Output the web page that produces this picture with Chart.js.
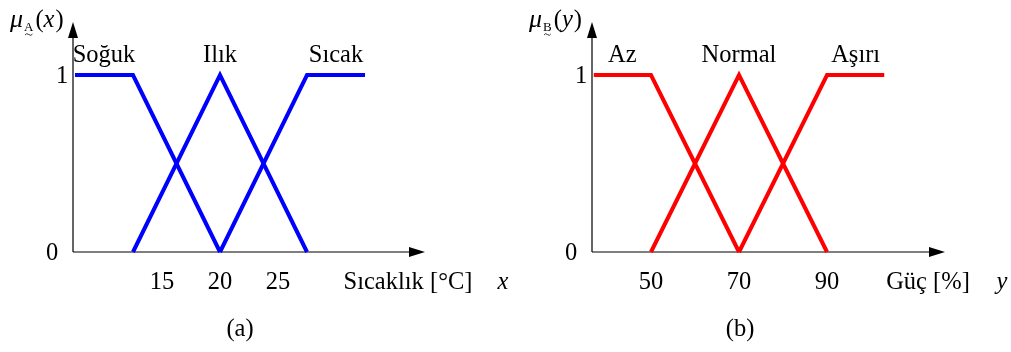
<!DOCTYPE html>
<html lang="tr">
<head>
<meta charset="UTF-8">
<title>Bulanık üyelik fonksiyonları</title>
<script src="https://cdn.jsdelivr.net/npm/chart.js"></script>
<style>
  body { margin: 0; background: #fff; }
  .panel { position: absolute; top: 0; height: 352px; }
  #panelA { left: 0; width: 525px; }
  #panelB { left: 505px; width: 506px; }
</style>
</head>
<body>
<div class="panel" id="panelA"><canvas id="chartA"></canvas></div>
<div class="panel" id="panelB"><canvas id="chartB"></canvas></div>
<script>
// (a) giriş: sıcaklık kümeleri
const tempSetNames = ['Soğuk', 'Ilık', 'Sıcak'];
const sogukX = [7.5, 12.5, 20];
const sogukMu = [1, 1, 0];
const ilikX = [12.5, 20, 27.5];
const ilikMu = [0, 1, 0];
const sicakX = [20, 27.5, 32.5];
const sicakMu = [0, 1, 1];
const tempTicks = [15, 20, 25];

// (b) çıkış: güç kümeleri
const powerSetNames = ['Az', 'Normal', 'Aşırı'];
const azX = [37, 50, 70];
const azMu = [1, 1, 0];
const normalX = [50, 70, 90];
const normalMu = [0, 1, 0];
const asiriX = [70, 90, 103];
const asiriMu = [0, 1, 1];
const powerTicks = [50, 70, 90];

const muTicks = [0, 1];

const FONT = "'Liberation Serif', 'DejaVu Serif', serif";
const SIZE = 24.5;

function toPoints(xs, ys) {
  return xs.map((x, i) => ({ x: x, y: ys[i] }));
}

function plateauCenter(xs, ys) {
  const top = xs.filter((x, i) => ys[i] === 1);
  return (Math.min(...top) + Math.max(...top)) / 2;
}

function fuzzyPlugin(cfg) {
  return {
    id: 'fuzzyAxes',
    beforeDatasetsDraw(chart) {
      const ctx = chart.ctx;
      const area = chart.chartArea;
      const ys = chart.scales.y;
      const x0 = area.left;
      const y0 = ys.getPixelForValue(0);
      ctx.save();
      ctx.strokeStyle = '#000';
      ctx.fillStyle = '#000';
      ctx.lineWidth = 1.2;
      ctx.beginPath();
      ctx.moveTo(x0, y0);
      ctx.lineTo(area.right - 12, y0);
      ctx.moveTo(x0, y0);
      ctx.lineTo(x0, area.top + 12);
      ctx.stroke();
      // ok uçları
      ctx.beginPath();
      ctx.moveTo(area.right, y0);
      ctx.lineTo(area.right - 16, y0 - 5);
      ctx.lineTo(area.right - 16, y0 + 5);
      ctx.closePath();
      ctx.fill();
      ctx.beginPath();
      ctx.moveTo(x0, area.top);
      ctx.lineTo(x0 - 5, area.top + 16);
      ctx.lineTo(x0 + 5, area.top + 16);
      ctx.closePath();
      ctx.fill();
      ctx.restore();
    },
    afterDraw(chart) {
      const ctx = chart.ctx;
      const area = chart.chartArea;
      const xs = chart.scales.x;
      const ys = chart.scales.y;
      const x0 = area.left;
      const y0 = ys.getPixelForValue(0);
      const font = SIZE + 'px ' + FONT;
      const italic = 'italic ' + SIZE + 'px ' + FONT;
      ctx.save();
      ctx.fillStyle = '#000';
      ctx.textBaseline = 'alphabetic';
      ctx.font = font;

      // y ekseni: 0 ve 1
      ctx.textAlign = 'center';
      muTicks.forEach(v => {
        const off = v === 1 ? 11 : 21;
        ctx.fillText(String(v), x0 - off, ys.getPixelForValue(v) + 8);
      });

      // x ekseni değerleri
      cfg.ticks.forEach(v => {
        ctx.fillText(String(v), xs.getPixelForValue(v), y0 + 37);
      });
      ctx.fillText(cfg.title, area.right - 17, y0 + 37);
      ctx.font = italic;
      ctx.fillText(cfg.variable, area.right + cfg.varOffset, y0 + 37);

      // küme adları
      ctx.font = font;
      const y1 = ys.getPixelForValue(1);
      cfg.sets.forEach((s, i) => {
        ctx.fillText(s, xs.getPixelForValue(cfg.centers[i]), y1 - 13);
      });

      // alt yazı
      ctx.fillText(cfg.caption, cfg.captionX, 336);

      // μ etiketi
      ctx.textAlign = 'left';
      let px = x0 - 63;
      const base = 27;
      ctx.font = 'italic 26px ' + FONT;
      ctx.fillText('μ', px, base);
      px += ctx.measureText('μ').width + 1;
      ctx.font = '13px ' + FONT;
      ctx.fillText(cfg.sub, px, base + 4);
      const sw = ctx.measureText(cfg.sub).width;
      ctx.lineWidth = 0.8;
      ctx.strokeStyle = '#000';
      ctx.beginPath();
      ctx.moveTo(px + 1, base + 8);
      ctx.quadraticCurveTo(px + sw / 4, base + 5.5, px + sw / 2, base + 7.5);
      ctx.quadraticCurveTo(px + sw * 3 / 4, base + 9.5, px + sw - 1, base + 7);
      ctx.stroke();
      px += sw + 2;
      ctx.font = font;
      ctx.fillText('(', px, base);
      px += ctx.measureText('(').width;
      ctx.font = italic;
      ctx.fillText(cfg.variable, px, base);
      px += ctx.measureText(cfg.variable).width + 1;
      ctx.font = font;
      ctx.fillText(')', px, base);
      ctx.restore();
    }
  };
}

function makeChart(id, color, series, xMin, xMax, padding, cfg) {
  return new Chart(document.getElementById(id), {
    type: 'scatter',
    data: {
      datasets: series.map(s => ({
        data: s,
        showLine: true,
        borderColor: color,
        backgroundColor: color,
        borderWidth: 4,
        pointRadius: 0,
        borderJoinStyle: 'miter',
        borderCapStyle: 'butt',
        clip: false
      }))
    },
    options: {
      responsive: true,
      maintainAspectRatio: false,
      animation: false,
      layout: { padding: padding },
      plugins: { legend: { display: false }, tooltip: { enabled: false } },
      scales: {
        x: { type: 'linear', min: xMin, max: xMax, display: false },
        y: { type: 'linear', min: 0, max: 1.3, display: false }
      }
    },
    plugins: [fuzzyPlugin(cfg)]
  });
}

makeChart('chartA', '#0000ff',
  [toPoints(sogukX, sogukMu), toPoints(ilikX, ilikMu), toPoints(sicakX, sicakMu)],
  7.33, 37.67,
  { left: 73, right: 100, top: 22, bottom: 100 },
  {
    ticks: tempTicks,
    title: 'Sıcaklık [°C]',
    variable: 'x',
    varOffset: 78,
    sub: 'A',
    sets: tempSetNames,
    centers: [plateauCenter(sogukX, sogukMu), plateauCenter(ilikX, ilikMu), plateauCenter(sicakX, sicakMu)],
    caption: '(a)',
    captionX: 240
  });

makeChart('chartB', '#ff0000',
  [toPoints(azX, azMu), toPoints(normalX, normalMu), toPoints(asiriX, asiriMu)],
  36.6, 116.8,
  { left: 87, right: 66, top: 22, bottom: 100 },
  {
    ticks: powerTicks,
    title: 'Güç [%]',
    variable: 'y',
    varOffset: 57,
    sub: 'B',
    sets: powerSetNames,
    centers: [plateauCenter(azX, azMu), plateauCenter(normalX, normalMu), plateauCenter(asiriX, asiriMu)],
    caption: '(b)',
    captionX: 235
  });
</script>
</body>
</html>
